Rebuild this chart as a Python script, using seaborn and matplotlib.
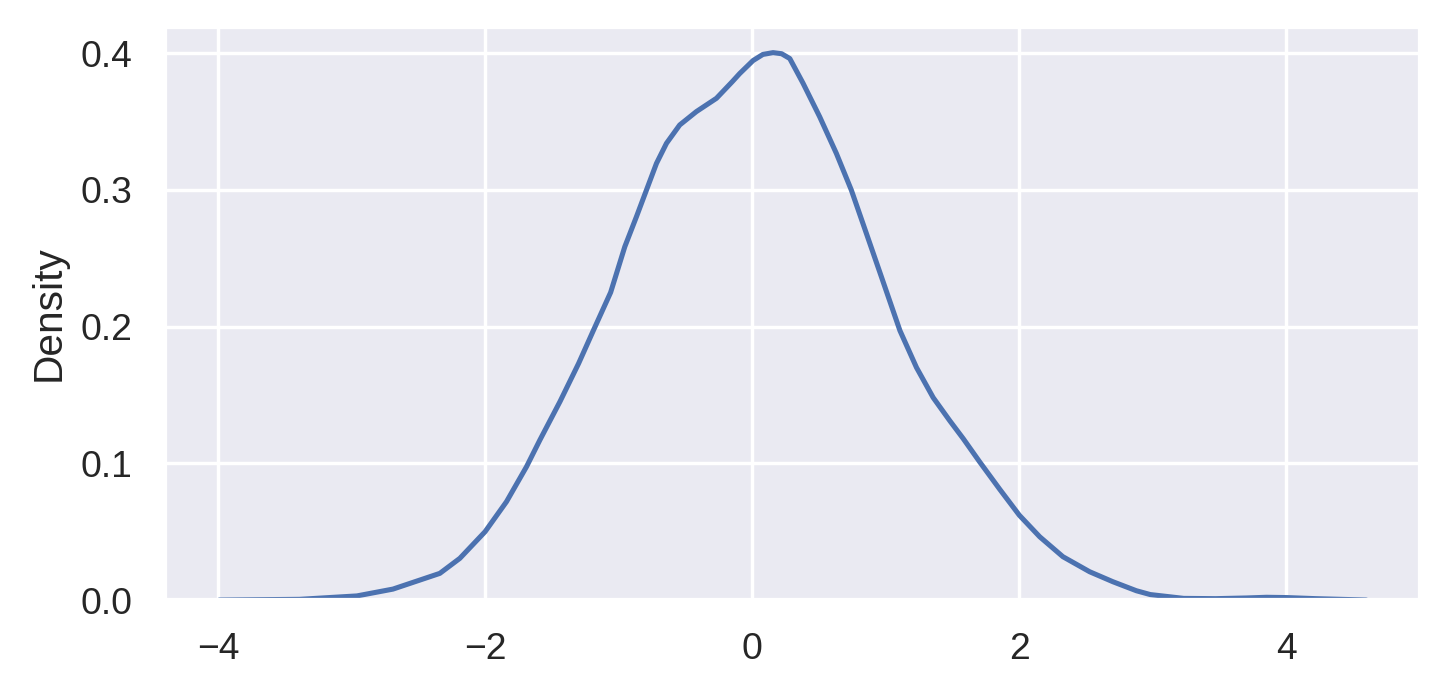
import numpy as np
import pandas as pd
import matplotlib
matplotlib.use("Agg")
import matplotlib.pyplot as plt
import seaborn as sns

# density curve (x value, density)
x_vals = [-3.99, -3.39, -2.96, -2.69, -2.339, -2.189, -2.0, -1.84, -1.69, -1.59,
          -1.44, -1.30, -1.19, -1.06, -0.954, -0.867, -0.792, -0.717, -0.642, -0.543,
          -0.418, -0.268, -0.15, -0.094, 0.006, 0.08, 0.156, 0.22, 0.281, 0.38,
          0.505, 0.63, 0.742, 0.855, 0.967, 1.106, 1.23, 1.355, 1.48, 1.58,
          1.703, 1.853, 2.0, 2.152, 2.326, 2.526, 2.70, 2.876, 2.98, 3.23,
          3.47, 3.70, 3.85, 4.0, 4.22, 4.597]
density = [0.0, 0.0005, 0.003, 0.008, 0.0195, 0.0305, 0.050, 0.0719, 0.0975, 0.117,
           0.145, 0.173, 0.197, 0.225, 0.2584, 0.2803, 0.2998, 0.3193, 0.334, 0.3474,
           0.3572, 0.3669, 0.379, 0.385, 0.3945, 0.399, 0.4003, 0.3995, 0.396, 0.378,
           0.3534, 0.3266, 0.2998, 0.268, 0.2364, 0.197, 0.170, 0.148, 0.131, 0.118,
           0.101, 0.081, 0.062, 0.0463, 0.0317, 0.0207, 0.0134, 0.0068, 0.0040, 0.0012,
           0.001, 0.0015, 0.002, 0.0018, 0.001, 0.0]

sns.set_theme()
plt.rcParams["font.family"] = ["Liberation Sans", "DejaVu Sans"]

df = pd.DataFrame({"x": x_vals, "Density": density})

# reference is rendered a bit denser than 200 dpi, so everything scales together
fig, ax = plt.subplots(figsize=(1447 / 244, 694 / 244), dpi=244)
fig.subplots_adjust(left=0.114, right=0.981, top=0.961, bottom=0.1354)

sns.lineplot(data=df, x="x", y="Density", ax=ax, color="#4C72B0", linewidth=1.5)

ax.set_xlim(-4.397, 4.996)
ax.set_ylim(0, 0.419)
ax.set_xticks([-4, -2, 0, 2, 4])
ax.set_yticks([0.0, 0.1, 0.2, 0.3, 0.4])
ax.set_xlabel("")
ax.set_ylabel("Density")

fig.savefig("out.png", dpi=244)
